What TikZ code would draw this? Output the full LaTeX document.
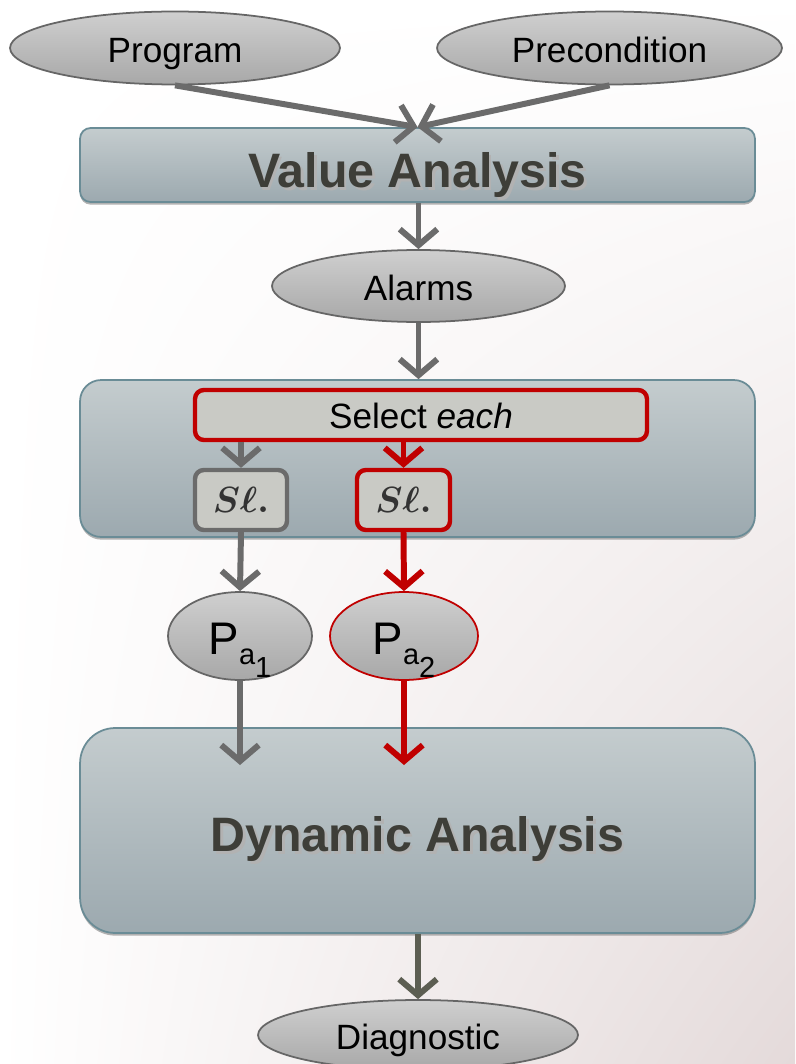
\documentclass[tikz,border=0pt]{standalone}
\usepackage{fontspec}
\setmainfont{Liberation Sans}
\usepackage{amsmath}
\usepackage{bm}
\usetikzlibrary{arrows.meta, positioning, shapes.geometric, shadows, shadings}

\definecolor{boxtop}{HTML}{C4CCCE}
\definecolor{boxbot}{HTML}{9CA9AF}
\definecolor{boxline}{HTML}{6A8C96}
\definecolor{elltop}{HTML}{CFCFCF}
\definecolor{ellbot}{HTML}{A8A8A8}
\definecolor{arrgray}{HTML}{6B6B6B}
\definecolor{arrdark}{HTML}{5C5E52}
\definecolor{selred}{HTML}{C00000}
\definecolor{selfill}{HTML}{C9CAC5}
\definecolor{titletext}{HTML}{3E3E38}
\definecolor{bgpink}{HTML}{E4DADA}

\newcommand{\shadowtext}[1]{\makebox[0pt][l]{\hspace{1.5pt}\raisebox{-1.5pt}{\color{black!30}#1}}#1}

\begin{document}
\begin{tikzpicture}[x=0.02cm, y=-0.02cm,
  stage/.style={draw=boxline, line width=1pt, top color=boxtop, bottom color=boxbot,
                drop shadow={shadow xshift=0pt, shadow yshift=-1.5pt, opacity=.6},
                minimum width=13.5cm, inner sep=0pt, text depth=0pt,
                font=\fontsize{27.5}{32}\selectfont\bfseries, text=titletext},
  data/.style={ellipse, draw=black!60, line width=1pt, top color=elltop, bottom color=ellbot,
               inner sep=0pt, text height=16pt, text depth=0pt,
               font=\fontsize{20}{24}\selectfont},
  pick/.style={draw=selred, line width=2.5pt, fill=selfill, rounded corners=5pt, inner sep=0pt},
  arr/.style={-{Straight Barb[length=3.2mm, width=7.5mm]}, line width=3.4pt, draw=arrgray},
  redarr/.style={arr, draw=selred}
]
% background
\shade[upper left=white, upper right=white, lower left=white, lower right=bgpink]
  (0,0) rectangle (795,1064);
\useasboundingbox (0,0) rectangle (795,1064);

% inputs
\node[data, minimum width=6.6cm, minimum height=1.46cm] (prog) at (175,48) {Program};
\node[data, minimum width=6.9cm, minimum height=1.46cm] (pre) at (609.5,48) {Precondition};

% value analysis
\node[stage, rounded corners=6pt, minimum height=1.48cm, text height=26pt] (va) at (417.5,165)
  {\shadowtext{Value Analysis}};
\node[data, minimum width=5.86cm, minimum height=1.44cm] (alarms) at (418.5,286) {Alarms};

% selection
\node[stage, rounded corners=12pt, minimum height=3.14cm] (sel) at (417.5,458.5) {};
\node[pick, minimum width=9.04cm, minimum height=1cm, text height=15pt, text depth=0pt,
      font=\fontsize{20}{24}\selectfont] (each) at (421,415) {Select \textit{each}};
\node[pick, draw=arrgray, minimum width=1.84cm, minimum height=1.2cm,
      font=\fontsize{21}{26}\selectfont, text=black!80] (sl1) at (241,500)
  {$\bm{S\ell.}$};
\node[pick, minimum width=1.86cm, minimum height=1.2cm,
      font=\fontsize{21}{26}\selectfont, text=black!80] (sl2) at (403.5,500)
  {$\bm{S\ell.}$};

% sliced programs
\node[data, minimum width=2.88cm, minimum height=1.76cm, text height=21.6pt,
      font=\fontsize{26}{30}\selectfont] (pa1) at (240,636)
  {P\raisebox{-5.7pt}{\fontsize{16.5}{20}\selectfont a\raisebox{-7.4pt}{1}}};
\node[data, draw=selred, minimum width=2.96cm, minimum height=1.76cm, text height=21.6pt,
      font=\fontsize{26}{30}\selectfont] (pa2) at (404,636)
  {P\raisebox{-5.7pt}{\fontsize{16.5}{20}\selectfont a\raisebox{-7.4pt}{2}}};

% dynamic analysis
\node[stage, rounded corners=20pt, minimum height=4.1cm, text height=24.4pt] (dyn) at (417.5,830.5)
  {\shadowtext{Dynamic Analysis}};
\node[data, minimum width=6.4cm, minimum height=1.4cm] (diag) at (418,1035) {Diagnostic};

% connectors
\draw[arr] (prog.south) -- (va.north);
\draw[arr] (pre.south) -- (va.north);
\draw[arr] (va.south -| alarms) -- (alarms.north);
\draw[arr] (alarms.south) -- (sel.north -| alarms);
\draw[arr] (each.south -| sl1) -- (sl1.north);
\draw[redarr] (each.south -| sl2) -- (sl2.north);
\draw[arr] (sl1.south) -- (pa1.north);
\draw[redarr] (sl2.south) -- (pa2.north);
\coordinate (in1) at (240,765);
\coordinate (in2) at (404,765);
\draw[arr] (pa1.south) -- (in1);
\draw[redarr] (pa2.south) -- (in2);
\draw[arr, draw=arrdark] (dyn.south -| diag) -- (diag.north);
\end{tikzpicture}
\end{document}
